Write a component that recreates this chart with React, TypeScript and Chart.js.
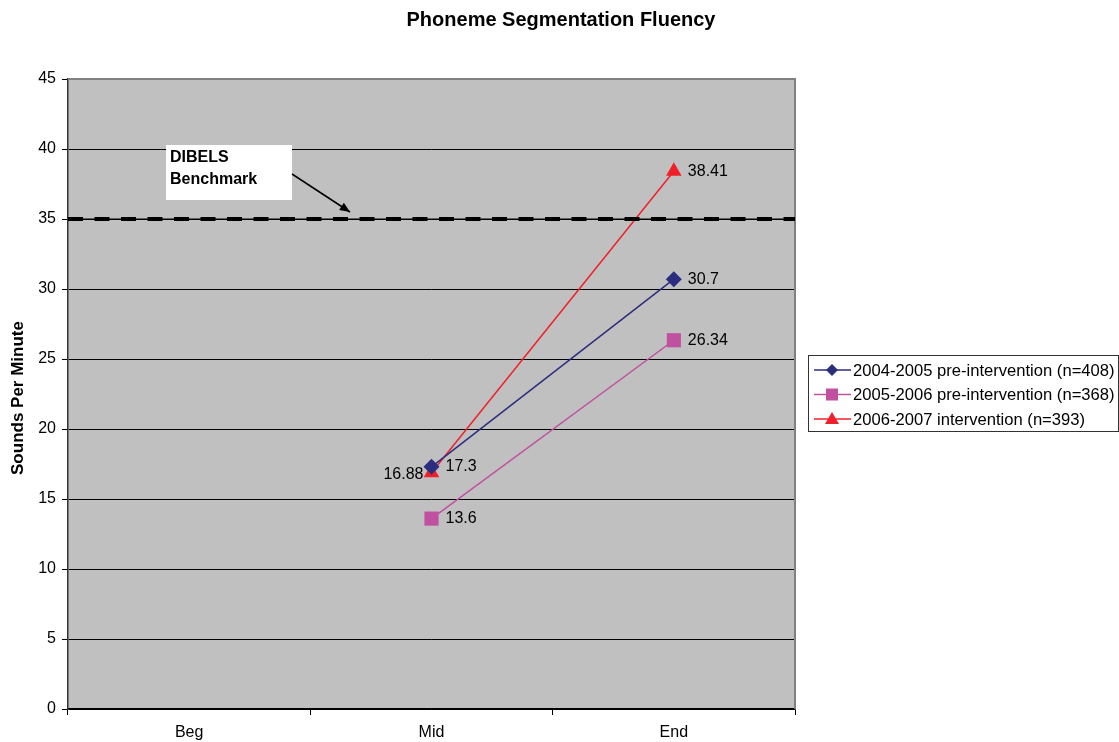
import React, { useEffect, useRef } from "react";
import { Chart, registerables } from "chart.js";

Chart.register(...registerables);

const categories = ["Beg", "Mid", "End"];
const series2004 = [null, 17.3, 30.7];
const series2005 = [null, 13.6, 26.34];
const series2006 = [null, 16.88, 38.41];
const seriesLabels = [
  "2004-2005 pre-intervention (n=408)",
  "2005-2006 pre-intervention (n=368)",
  "2006-2007 intervention (n=393)",
];
const benchmarkValue = 35;
const benchmarkText = ["DIBELS", "Benchmark"];
const yTicks = [0, 5, 10, 15, 20, 25, 30, 35, 40, 45];

const FONT = "Arial, 'Liberation Sans', Helvetica, sans-serif";
const COLORS = ["#2B2D7E", "#C050A0", "#F0202A"];
const POINTS: any[] = ["rectRot", "rect", "triangle"];
const RADII = [8, 10, 9];

const overlay = {
  id: "overlay",
  beforeDraw(chart: any) {
    const { ctx, chartArea: a } = chart;
    ctx.save();
    ctx.fillStyle = "#C0C0C0";
    ctx.fillRect(a.left, a.top, a.right - a.left, a.bottom - a.top);
    ctx.restore();
  },
  afterDatasetsDraw(chart: any) {
    const { ctx, chartArea: a, scales } = chart;
    const y = scales.y;
    ctx.save();
    // plot border (top, right)
    ctx.strokeStyle = "#808080";
    ctx.lineWidth = 2;
    ctx.beginPath();
    ctx.moveTo(a.left, a.top);
    ctx.lineTo(a.right, a.top);
    ctx.lineTo(a.right, a.bottom);
    ctx.stroke();
    // benchmark dashed line
    const by = y.getPixelForValue(benchmarkValue);
    ctx.strokeStyle = "#000";
    ctx.lineWidth = 1;
    ctx.beginPath();
    ctx.moveTo(a.left, by);
    ctx.lineTo(a.right, by);
    ctx.stroke();
    ctx.lineWidth = 4;
    ctx.setLineDash([15, 11.5]);
    ctx.beginPath();
    ctx.moveTo(a.left, by);
    ctx.lineTo(a.right, by);
    ctx.stroke();
    ctx.setLineDash([]);
    // annotation box
    const bx = 166, bTop = 145, bw = 126, bh = 55;
    ctx.fillStyle = "#fff";
    ctx.fillRect(bx, bTop, bw, bh);
    ctx.fillStyle = "#000";
    ctx.font = `bold 16px ${FONT}`;
    ctx.textBaseline = "middle";
    ctx.textAlign = "left";
    ctx.fillText(benchmarkText[0], bx + 4, bTop + 13);
    ctx.fillText(benchmarkText[1], bx + 4, bTop + 35);
    // arrow
    const x1 = bx + bw, y1 = bTop + 29, x2 = 350, y2 = by - 7;
    ctx.strokeStyle = "#000";
    ctx.lineWidth = 1.5;
    ctx.beginPath();
    ctx.moveTo(x1, y1);
    ctx.lineTo(x2, y2);
    ctx.stroke();
    const ang = Math.atan2(y2 - y1, x2 - x1);
    ctx.beginPath();
    ctx.moveTo(x2, y2);
    ctx.lineTo(x2 - 11 * Math.cos(ang - 0.4), y2 - 11 * Math.sin(ang - 0.4));
    ctx.lineTo(x2 - 11 * Math.cos(ang + 0.4), y2 - 11 * Math.sin(ang + 0.4));
    ctx.closePath();
    ctx.fill();
    // data labels
    ctx.font = `16px ${FONT}`;
    ctx.fillStyle = "#000";
    chart.data.datasets.forEach((ds: any, di: number) => {
      const meta = chart.getDatasetMeta(di);
      meta.data.forEach((pt: any, i: number) => {
        const v = ds.data[i];
        if (v === null || v === undefined) return;
        const left = di === 2 && i === 1;
        ctx.textAlign = left ? "right" : "left";
        ctx.fillText(String(v), pt.x + (left ? -8 : 14), pt.y + (left ? 2 : 0));
      });
    });
    ctx.restore();
  },
  afterDraw(chart: any) {
    const { ctx, chartArea: a } = chart;
    ctx.save();
    // title
    ctx.fillStyle = "#000";
    ctx.font = `bold 20px ${FONT}`;
    ctx.textAlign = "center";
    ctx.textBaseline = "middle";
    ctx.fillText("Phoneme Segmentation Fluency", 561, 20);
    // y axis title
    ctx.save();
    ctx.translate(18, (a.top + a.bottom) / 2 + 4);
    ctx.rotate(-Math.PI / 2);
    ctx.font = `bold 17px ${FONT}`;
    ctx.fillText("Sounds Per Minute", 0, 0);
    ctx.restore();
    // legend
    const lx = 808, ly = 355, lw = 311, lh = 77;
    ctx.fillStyle = "#fff";
    ctx.fillRect(lx, ly, lw, lh);
    ctx.strokeStyle = "#333";
    ctx.lineWidth = 1;
    ctx.strokeRect(lx + 0.5, ly + 0.5, lw - 1, lh - 1);
    ctx.font = `16.6px ${FONT}`;
    ctx.textAlign = "left";
    seriesLabels.forEach((lab, i) => {
      const yy = ly + 15 + i * 24.5;
      ctx.strokeStyle = COLORS[i];
      ctx.lineWidth = 1.5;
      ctx.beginPath();
      ctx.moveTo(lx + 6, yy);
      ctx.lineTo(lx + 43, yy);
      ctx.stroke();
      ctx.fillStyle = COLORS[i];
      const cx = lx + 24;
      ctx.beginPath();
      if (i === 0) {
        ctx.moveTo(cx, yy - 6); ctx.lineTo(cx + 6, yy); ctx.lineTo(cx, yy + 6); ctx.lineTo(cx - 6, yy);
      } else if (i === 1) {
        ctx.rect(cx - 6, yy - 6, 12, 12);
      } else {
        ctx.moveTo(cx, yy - 7); ctx.lineTo(cx + 7, yy + 5); ctx.lineTo(cx - 7, yy + 5);
      }
      ctx.closePath();
      ctx.fill();
      ctx.fillStyle = "#000";
      ctx.fillText(lab, lx + 45, yy + 1);
    });
    ctx.restore();
  },
};

export default function App() {
  const ref = useRef<HTMLCanvasElement | null>(null);
  useEffect(() => {
    if (!ref.current) return;
    const all = [series2004, series2005, series2006];
    const chart = new Chart(ref.current, {
      type: "line",
      data: {
        labels: categories,
        datasets: all.map((d, i) => ({
          label: seriesLabels[i],
          data: d as any,
          borderColor: COLORS[i],
          backgroundColor: COLORS[i],
          borderWidth: 1.5,
          pointStyle: POINTS[i],
          pointRadius: RADII[i],
          pointBorderWidth: 0,
          pointBorderColor: COLORS[i],
          fill: false,
          tension: 0,
        })),
      },
      options: {
        animation: false,
        responsive: false,
        maintainAspectRatio: false,
        layout: { padding: { top: 79, right: 324, bottom: 0, left: 0 } },
        plugins: { legend: { display: false }, title: { display: false }, tooltip: { enabled: false } },
        scales: {
          x: {
            type: "category",
            offset: true,
            grid: { offset: true, drawOnChartArea: false, drawTicks: true, tickLength: 6, color: "#000" },
            border: { display: true, color: "#000", width: 1.5 },
            ticks: { color: "#000", font: { family: FONT, size: 16 }, padding: 8, maxRotation: 0 },
            afterFit: (s: any) => { s.height = 33; },
          },
          y: {
            min: 0,
            max: 45,
            afterBuildTicks: (s: any) => { s.ticks = yTicks.map((v) => ({ value: v })); },
            grid: { color: "#000", lineWidth: 1, tickLength: 6, drawTicks: true },
            border: { display: true, color: "#333", width: 1.5 },
            ticks: { color: "#000", font: { family: FONT, size: 16 }, padding: 6 },
            afterFit: (s: any) => { s.width = 68; },
          },
        },
      },
      plugins: [overlay],
    });
    return () => chart.destroy();
  }, []);
  return (
    <div style={{ position: "fixed", left: 0, top: 0, width: 1119, height: 742, background: "#fff" }}>
      <canvas ref={ref} width={1119} height={742} style={{ width: 1119, height: 742 }} />
    </div>
  );
}
